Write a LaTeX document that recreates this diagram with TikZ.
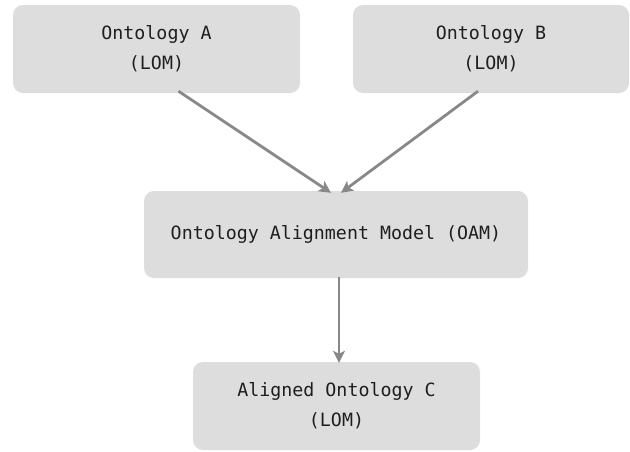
\documentclass[tikz,border=0pt]{standalone}
\usepackage{fontspec}
\setmonofont{DejaVu Sans Mono}
\usepackage{tikz}
\usetikzlibrary{shapes,arrows,arrows.meta}
\usetikzlibrary{calc}

\definecolor{boxgray}{RGB}{221,221,221}
\definecolor{linegray}{RGB}{136,136,136}
\definecolor{textdark}{RGB}{30,30,30}

\begin{document}
\begin{tikzpicture}[>={Stealth[length=12pt,width=12pt,inset=3pt]},x=1pt,y=-1pt,
                    box node/.style={rectangle,rounded corners=10pt,fill=boxgray,draw=none,
                      align=center,text=textdark,inner sep=0pt,
                      font=\ttfamily\fontsize{18.3}{30}\selectfont},
                    link/.style={->,draw=linegray,line width=2.8pt}]
  \useasboundingbox (0,0) rectangle (630,451);

  \node[box node,minimum width=287pt,minimum height=88pt] (A) at (156.5,49) {Ontology A\\(LOM)};
  \node[box node,minimum width=276pt,minimum height=88pt] (B) at (491,49) {Ontology B\\(LOM)};
  \node[box node,minimum width=384pt,minimum height=87pt] (OAM) at (336,234.5) {Ontology Alignment Model (OAM)};
  \node[box node,minimum width=287pt,minimum height=88pt] (C) at (336.5,406) {Aligned Ontology C\\(LOM)};

  \draw[link] ([xshift=22pt,yshift=2pt]A.south) -- ([xshift=-5pt,yshift=-2pt]OAM.north);
  \draw[link] ([xshift=-13pt,yshift=2pt]B.south) -- ([xshift=5pt,yshift=-2pt]OAM.north);
  \draw[link] ([xshift=3pt,yshift=1pt]OAM.south) -- ([xshift=2.5pt,yshift=-1pt]C.north);

\end{tikzpicture}
\end{document}
